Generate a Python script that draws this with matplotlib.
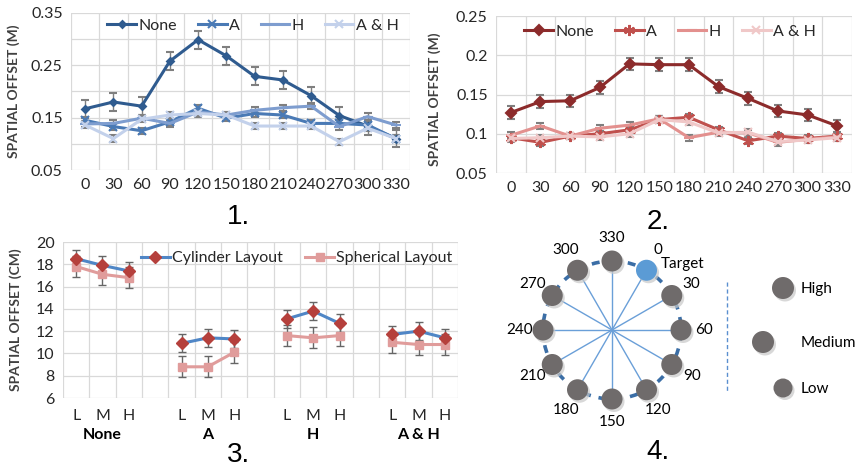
import numpy as np
import matplotlib
matplotlib.use("Agg")
from matplotlib import pyplot as plt
from matplotlib.patches import Circle

plt.rcParams['font.family'] = ['Lato', 'DejaVu Sans']

# ---- panel 1 / 2 data: offset by angle ----
angles = [0, 30, 60, 90, 120, 150, 180, 210, 240, 270, 300, 330]

cyl_none = [0.167, 0.180, 0.172, 0.258, 0.299, 0.268, 0.229, 0.222, 0.192, 0.154, 0.134, 0.110]
cyl_a = [0.145, 0.133, 0.125, 0.142, 0.168, 0.149, 0.158, 0.155, 0.139, 0.139, 0.136, 0.110]
cyl_h = [0.138, 0.139, 0.149, 0.139, 0.161, 0.155, 0.164, 0.169, 0.172, 0.133, 0.152, 0.136]
cyl_ah = [0.136, 0.110, 0.147, 0.155, 0.158, 0.155, 0.134, 0.134, 0.134, 0.104, 0.130, 0.110]
cyl_err = [0.017, 0.006, 0.006, 0.006]

sph_none = [0.127, 0.141, 0.142, 0.159, 0.189, 0.188, 0.188, 0.160, 0.145, 0.129, 0.124, 0.110]
sph_a = [0.095, 0.089, 0.097, 0.100, 0.105, 0.118, 0.121, 0.105, 0.091, 0.097, 0.094, 0.097]
sph_h = [0.098, 0.110, 0.097, 0.107, 0.111, 0.119, 0.095, 0.102, 0.101, 0.089, 0.093, 0.096]
sph_ah = [0.094, 0.095, 0.097, 0.096, 0.100, 0.118, 0.115, 0.101, 0.102, 0.090, 0.092, 0.095]
sph_err = [0.008, 0.004, 0.004, 0.004]

series_names = ['None', 'A', 'H', 'A & H']

# ---- panel 3 data: offset by level and condition (cm) ----
levels = ['L', 'M', 'H']
conditions = ['None', 'A', 'H', 'A & H']
layout_cyl = [[18.5, 17.9, 17.4], [10.9, 11.4, 11.3], [13.1, 13.8, 12.7], [11.7, 12.0, 11.4]]
layout_sph = [[17.8, 17.1, 16.8], [8.8, 8.8, 10.1], [11.6, 11.4, 11.6], [11.0, 10.8, 10.8]]
layout_cyl_err = 0.8
layout_sph_err = 0.95

# ---- panel 4: target angles ----
ring_angles = [0, 30, 60, 90, 120, 150, 180, 210, 240, 270, 300, 330]
height_levels = ['High', 'Medium', 'Low']

W, H = 856, 469
fig = plt.figure(figsize=(W / 100, H / 100), dpi=100)


def px_axes(left, top, right, bottom):
    return fig.add_axes([left / W, 1 - bottom / H, (right - left) / W, (bottom - top) / H])


TXT = '#262626'
GRID = '#d9d9d9'


def style_axes(ax, n, ylim, yticks, ygrid):
    ax.set_xlim(-0.5, n - 0.5)
    ax.set_ylim(*ylim)
    ax.set_xticks(np.arange(-0.5, n), minor=True)
    ax.set_yticks(yticks)
    ax.set_yticks(ygrid, minor=True)
    ax.grid(True, which='minor', color=GRID, lw=0.9)
    ax.grid(True, which='major', axis='y', color=GRID, lw=0.9)
    ax.grid(False, which='major', axis='x')
    for s in ax.spines.values():
        s.set_visible(False)
    ax.tick_params(which='both', length=0, labelsize=11.5, colors=TXT, pad=6)
    ax.set_axisbelow(True)


def angle_panel(ax, data, errs, colors, markers, msizes, ylim, yticks, ygrid, leg_x, leg_y):
    x = np.arange(len(angles))
    style_axes(ax, len(angles), ylim, yticks, ygrid)
    for vals, err, c, m, ms, name in zip(data, errs, colors, markers, msizes, series_names):
        ax.errorbar(x, vals, yerr=err, color=c, lw=2.2, marker=m, ms=ms, mew=1.5,
                    ecolor='#7f7f7f', elinewidth=1, capsize=3, capthick=1, label=name)
    ax.set_xticks(x)
    ax.set_xticklabels([str(a) for a in angles])
    ax.set_ylabel('SPATIAL OFFSET (M)', fontsize=10, fontweight='bold', color='#404040')
    handles, labels = ax.get_legend_handles_labels()
    handles = [h[0] for h in handles]
    ax.legend(handles, labels, loc='center', bbox_to_anchor=(leg_x, leg_y), ncol=4, frameon=False,
              fontsize=11.5, handlelength=1.8, handletextpad=0.15, columnspacing=1.3,
              labelcolor=TXT)


# panel 1
ax1 = px_axes(71, 13, 410, 170)
angle_panel(ax1, [cyl_none, cyl_a, cyl_h, cyl_ah], cyl_err,
            ['#2f5b8f', '#4a7ab5', '#7e9dcf', '#c3d1eb'], ['D', 'x', '_', 'x'], [3.5, 6, 7, 6],
            (0.05, 0.35), [0.05, 0.15, 0.25, 0.35], [0.10, 0.20, 0.30], 0.537, 0.92)
ax1.set_yticklabels(['0.05', '0.15', '0.25', '0.35'])
ax1.yaxis.set_label_coords(-0.15, 0.5)

# panel 2
ax2 = px_axes(496, 16, 852, 173)
angle_panel(ax2, [sph_none, sph_a, sph_h, sph_ah], sph_err,
            ['#8c2b2b', '#c0504d', '#e3908e', '#f0c8c8'], ['D', (6, 2, 0), '_', 'x'], [5, 8, 7, 6],
            (0.05, 0.25), [0.05, 0.10, 0.15, 0.20, 0.25], [], 0.489, 0.90)
ax2.set_yticklabels(['0.05', '0.1', '0.15', '0.2', '0.25'])
ax2.yaxis.set_label_coords(-0.155, 0.47)

# panel 3
ax3 = px_axes(63, 242, 458, 398)
n3 = len(conditions) * 4 - 1
style_axes(ax3, n3, (6, 20), np.arange(6, 21, 2), [])
ax3.tick_params(axis='x', pad=8)
for gi, cond in enumerate(conditions):
    xs = np.arange(3) + gi * 4
    ax3.errorbar(xs, layout_sph[gi], yerr=layout_sph_err, color='#e09c9b', lw=2.2, marker='s', ms=6,
                 ecolor='#666666', elinewidth=1, capsize=3, capthick=1,
                 label='Spherical Layout' if gi == 0 else None)
    ax3.errorbar(xs, layout_cyl[gi], yerr=layout_cyl_err, color='#4f86c6', lw=2.2, marker='D', ms=6,
                 mfc='#b5403c', mec='#b5403c',
                 ecolor='#666666', elinewidth=1, capsize=3, capthick=1,
                 label='Cylinder Layout' if gi == 0 else None)
    ax3.text(gi * 4 + 1, -0.24, cond, transform=ax3.get_xaxis_transform(), ha='center', va='center',
             fontsize=11.5, fontweight='bold', color='black')
tick_pos = [gi * 4 + k for gi in range(len(conditions)) for k in range(3)]
ax3.set_xticks(tick_pos)
ax3.set_xticklabels(levels * len(conditions))
ax3.set_ylabel('SPATIAL OFFSET (CM)', fontsize=10, fontweight='bold', color='#404040')
ax3.yaxis.set_label_coords(-0.105, 0.5)
h3, l3 = ax3.get_legend_handles_labels()
h3 = [h[0] for h in h3]
ax3.legend(h3[::-1], l3[::-1], loc='center', bbox_to_anchor=(0.592, 0.896), ncol=2, frameon=False,
           fontsize=11.5, handlelength=1.8, handletextpad=0.15, columnspacing=1.4, labelcolor=TXT)

# panel 4: layout diagram drawn in pixel units
ax4 = px_axes(470, 205, 856, 469)
ax4.set_xlim(470, 856)
ax4.set_ylim(469, 205)
ax4.axis('off')
cx, cy, r = 612, 330, 69
ax4.add_patch(Circle((cx, cy), r, fill=False, ls=(0, (2.2, 2.2)), lw=2.6, color='#3b6ea6', zorder=1))
for a in ring_angles:
    t = np.deg2rad(a + 30)
    px, py = cx + r * np.sin(t), cy - r * np.cos(t)
    ax4.plot([cx, px], [cy, py], color='#6a9fd8', lw=1, zorder=2)
    col = '#5b9bd5' if a == 0 else '#6f6b6b'
    ax4.add_patch(Circle((px + 2, py + 2.5), 10.5, color='#c8c8c8', alpha=0.7, zorder=3, lw=0))
    ax4.add_patch(Circle((px, py), 10.5, color=col, zorder=4, lw=0))
    lx, ly = cx + 92 * np.sin(t), cy - 92 * np.cos(t)
    ax4.text(lx, ly, str(a), ha='center', va='center', fontsize=11, color='black')
ax4.text(661, 264, 'Target', ha='left', va='center', fontsize=11, color='black')
ax4.plot([727, 727], [282, 393], ls=(0, (3, 2)), color='#5b8fd0', lw=1)
for (mx, my, mr), name in zip([(783, 288, 11), (763, 342, 11), (783, 388, 9.5)], height_levels):
    ax4.add_patch(Circle((mx + 2, my + 2.5), mr, color='#c8c8c8', alpha=0.7, lw=0, zorder=3))
    ax4.add_patch(Circle((mx, my), mr, color='#6f6b6b', lw=0, zorder=4))
    ax4.text(801, my + 1, name, ha='left', va='center', fontsize=11, color='black')

# panel numbers
for label, x, y in [('1.', 238, 217), ('2.', 658, 222), ('3.', 238, 455), ('4.', 658, 452)]:
    fig.text(x / W, 1 - y / H, label, ha='center', va='center', fontsize=20,
             family=['Liberation Sans', 'DejaVu Sans'], color='black')

fig.savefig('out.png', dpi=100)
